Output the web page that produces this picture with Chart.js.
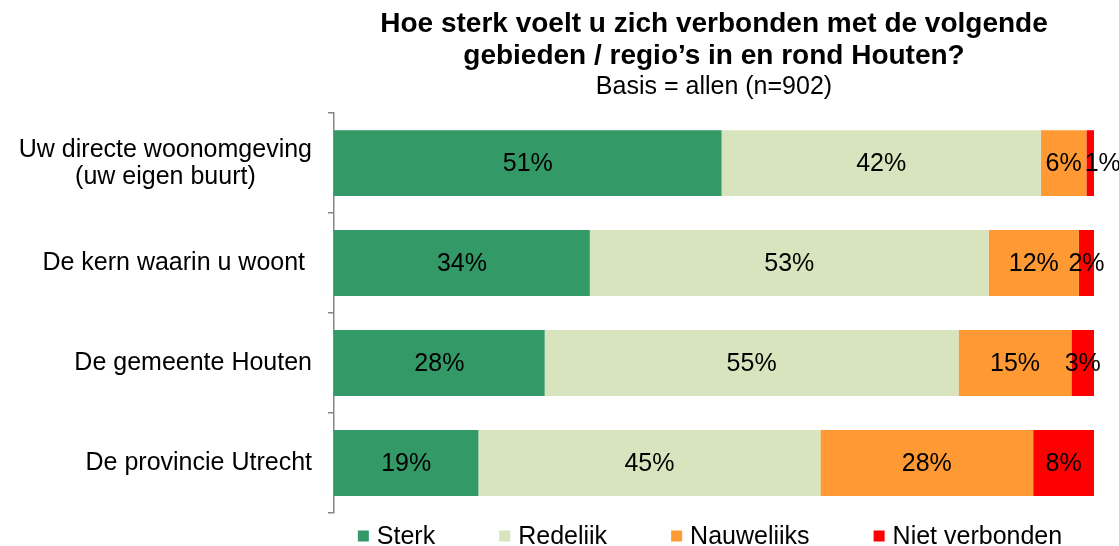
<!DOCTYPE html>
<html>
<head>
<meta charset="utf-8">
<script src="https://cdn.jsdelivr.net/npm/chart.js@4"></script>
<style>
  html, body { margin: 0; padding: 0; background: #fff; }
  #wrap { width: 1119px; height: 546px; }
</style>
</head>
<body>
<div id="wrap"><canvas id="chart" width="1119" height="546"></canvas></div>
<script>
// categories (multi-line labels as arrays)
const categories = [
    ["Uw directe woonomgeving", "(uw eigen buurt)"],
    ["De kern waarin u woont "],
    ["De gemeente Houten"],
    ["De provincie Utrecht"],
];

// percentages as printed in the chart
const sterk = [51, 34, 28, 19];
const redelijk = [42, 53, 55, 45];
const nauwelijks = [6, 12, 15, 28];
const nietVerbonden = [1, 2, 3, 8];

const seriesNames = ["Sterk", "Redeliik", "Nauweliiks", "Niet verbonden"];
const seriesColors = ["#339966", "#D7E4BD", "#FF9933", "#FF0000"];
const seriesValues = [sterk, redelijk, nauwelijks, nietVerbonden];

const FONT = "'Liberation Sans', Arial, sans-serif";

// rounded percentages don't always add to 100, so scale each row to 100
const rowTotals = categories.map((c, i) => seriesValues.reduce((s, arr) => s + arr[i], 0));

const datasets = seriesValues.map((values, k) => ({
    label: seriesNames[k],
    data: values.map((v, i) => (v / rowTotals[i]) * 100),
    printed: values,
    backgroundColor: seriesColors[k],
    borderWidth: 0,
    barPercentage: 0.66,
    categoryPercentage: 1.0,
}));

// percentage labels inside the bars, pushed right when they would overlap
const barLabels = {
    id: "barLabels",
    afterDatasetsDraw(chart) {
        const ctx = chart.ctx;
        ctx.save();
        ctx.font = "25px " + FONT;
        ctx.fillStyle = "#000";
        ctx.textAlign = "center";
        ctx.textBaseline = "middle";
        categories.forEach((c, i) => {
            let prevRight = -Infinity;
            chart.data.datasets.forEach((ds, k) => {
                const bar = chart.getDatasetMeta(k).data[i];
                const text = ds.printed[i] + "%";
                const w = ctx.measureText(text).width;
                let cx = (bar.x + bar.base) / 2;
                if (cx - w / 2 < prevRight + 3) cx = prevRight + 3 + w / 2;
                ctx.fillText(text, cx, bar.y + 1);
                prevRight = cx + w / 2;
            });
        });
        ctx.restore();
    },
};

// category labels: block right-aligned to the axis, lines centered in the block
const categoryLabels = {
    id: "categoryLabels",
    afterDraw(chart) {
        const ctx = chart.ctx;
        const yScale = chart.scales.y;
        const right = chart.chartArea.left - 22;
        const lineH = 27;
        ctx.save();
        ctx.font = "25px " + FONT;
        ctx.fillStyle = "#000";
        ctx.textAlign = "center";
        ctx.textBaseline = "middle";
        categories.forEach((lines, i) => {
            const maxW = Math.max(...lines.map((l) => ctx.measureText(l).width));
            const cx = right - maxW / 2;
            const y0 = yScale.getPixelForValue(i) - ((lines.length - 1) * lineH) / 2;
            lines.forEach((l, j) => ctx.fillText(l, cx, y0 + j * lineH));
        });
        ctx.restore();
    },
};

// legend under the plot, centered on the plot area
const bottomLegend = {
    id: "bottomLegend",
    afterDraw(chart) {
        const ctx = chart.ctx;
        const area = chart.chartArea;
        const box = 11;
        const gap = 8;
        const itemGap = 64;
        ctx.save();
        ctx.font = "25px " + FONT;
        ctx.textBaseline = "middle";
        ctx.textAlign = "left";
        const widths = seriesNames.map((n) => box + gap + ctx.measureText(n).width);
        const total = widths.reduce((a, b) => a + b, 0) + itemGap * (widths.length - 1);
        let x = (area.left + area.right) / 2 - 4 - total / 2;
        const y = 536;
        seriesNames.forEach((n, k) => {
            ctx.fillStyle = seriesColors[k];
            ctx.fillRect(x, y - box / 2, box, box);
            ctx.fillStyle = "#000";
            ctx.fillText(n, x + box + gap, y + 1);
            x += widths[k] + itemGap;
        });
        ctx.restore();
    },
};

new Chart(document.getElementById("chart"), {
    type: "bar",
    data: {
        labels: categories.map((l) => l.join(" ")),
        datasets: datasets,
    },
    plugins: [barLabels, categoryLabels, bottomLegend],
    options: {
        indexAxis: "y",
        responsive: false,
        animation: false,
        layout: {
            padding: { left: 0, right: 25, top: 0, bottom: 33 },
        },
        scales: {
            x: {
                stacked: true,
                min: 0,
                max: 100,
                display: false,
            },
            y: {
                stacked: true,
                afterFit(scale) {
                    scale.width = 334;
                },
                ticks: { display: false },
                grid: {
                    offset: true,
                    drawOnChartArea: false,
                    drawTicks: true,
                    tickLength: 6,
                    color: "#868686",
                    lineWidth: 1.5,
                },
                border: { display: true, color: "#868686", width: 1.5 },
            },
        },
        plugins: {
            legend: { display: false },
            tooltip: { enabled: false },
            title: {
                display: true,
                fullSize: false,
                text: [
                    "Hoe sterk voelt u zich verbonden met de volgende",
                    "gebieden / regio\u2019s in en rond Houten?",
                ],
                color: "#000",
                font: { family: FONT, size: 28, weight: "bold", lineHeight: 1.15 },
                padding: { top: 8, bottom: 0 },
            },
            subtitle: {
                display: true,
                fullSize: false,
                text: "Basis = allen (n=902)",
                color: "#000",
                font: { family: FONT, size: 25, lineHeight: 1.15 },
                padding: { top: 0, bottom: 12 },
            },
        },
    },
});
</script>
</body>
</html>
